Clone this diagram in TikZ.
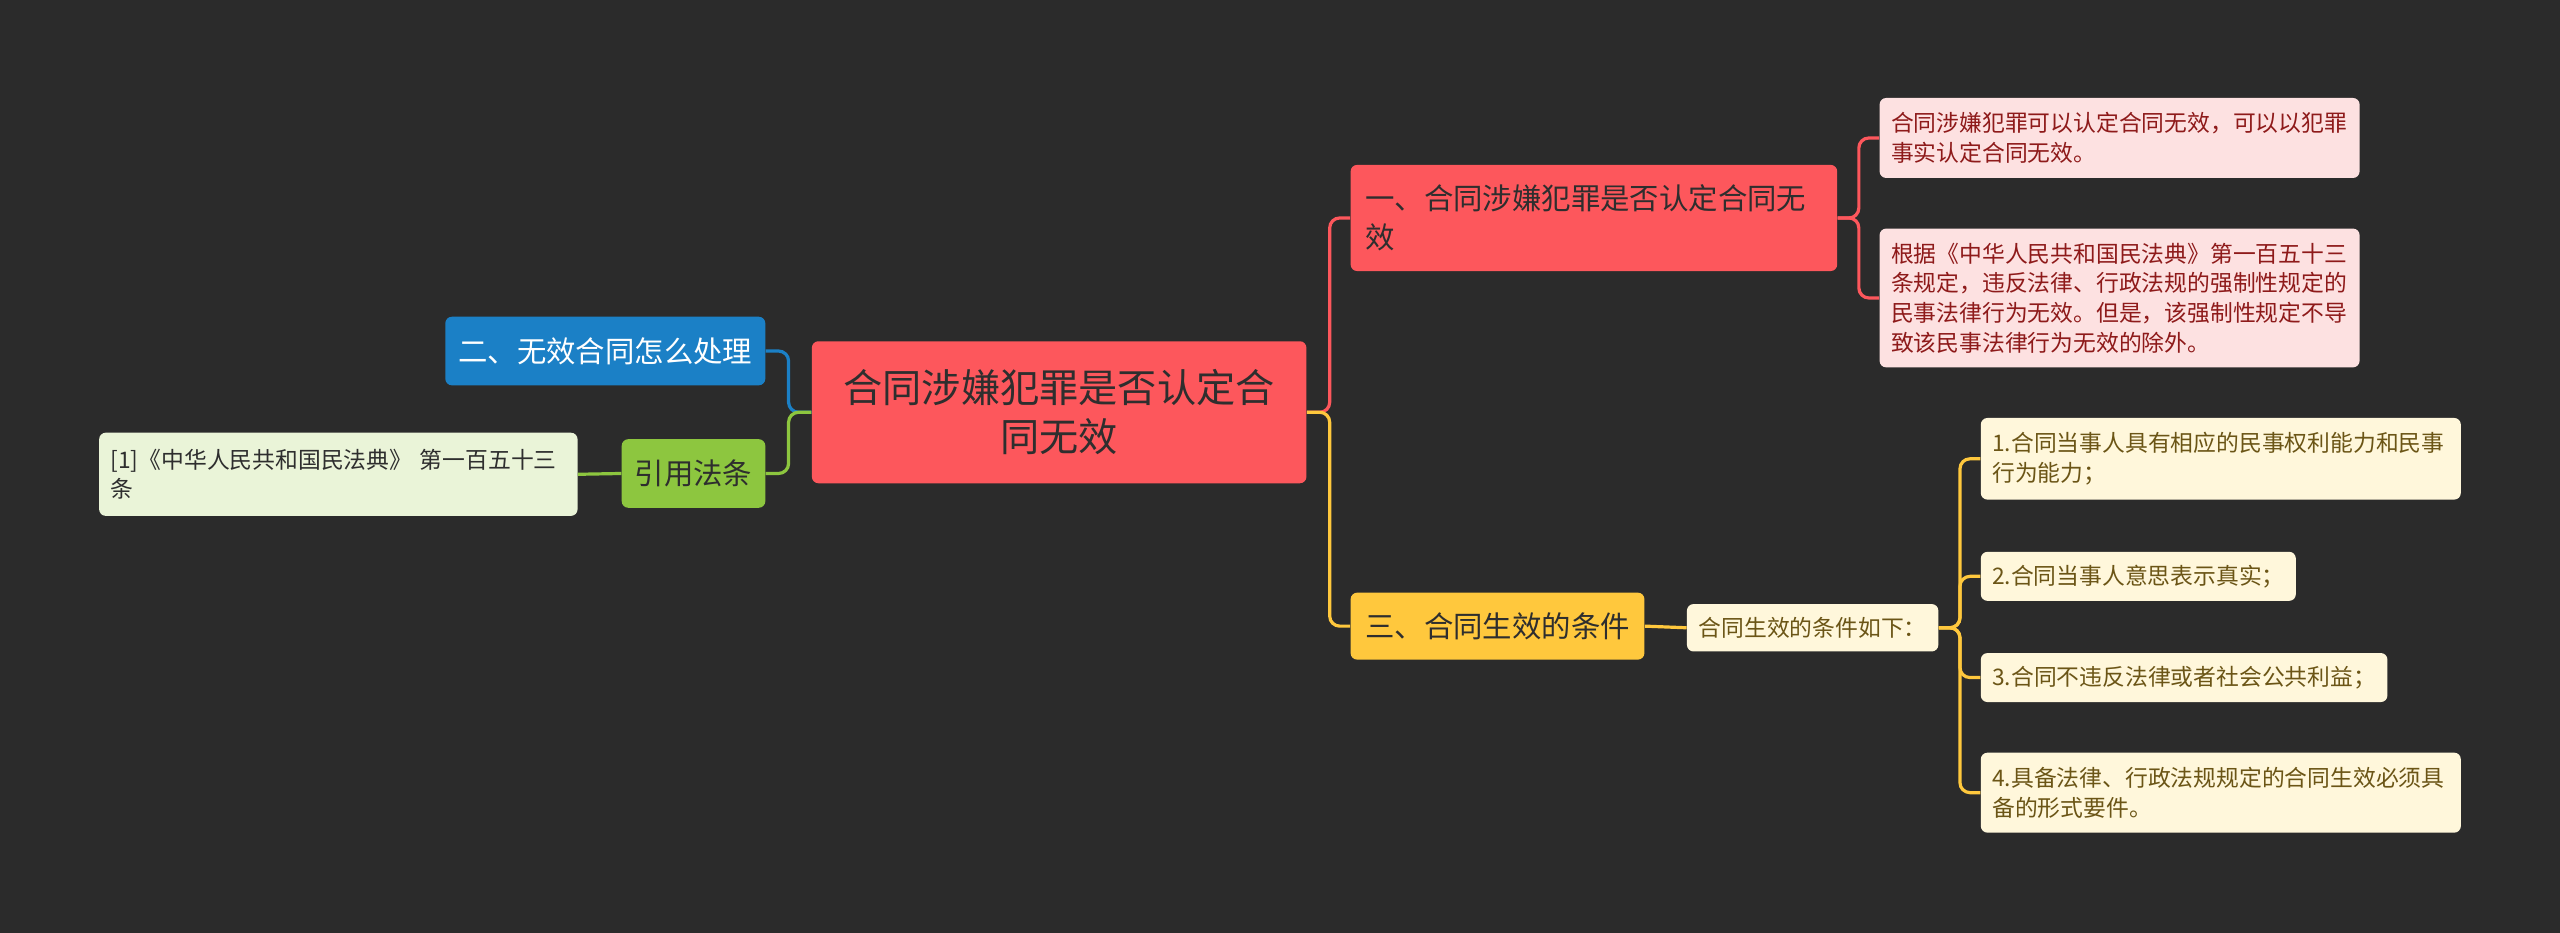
\documentclass[tikz,border=0pt]{standalone}
\usepackage{fontspec}
\setmainfont{Noto Sans CJK SC}
\definecolor{bgc}{HTML}{2B2B2B}
\definecolor{cred}{HTML}{FD575C}
\definecolor{cpink}{HTML}{FDE1E1}
\definecolor{tdred}{HTML}{8E1A1A}
\definecolor{cyel}{HTML}{FFC83D}
\definecolor{ccream}{HTML}{FFF7DB}
\definecolor{tolive}{HTML}{6B5516}
\definecolor{cblue}{HTML}{1B80C6}
\definecolor{cgreen}{HTML}{8DC63F}
\definecolor{clgreen}{HTML}{EAF4D8}
\definecolor{tdark}{HTML}{2E2E2E}
\begin{document}
\begin{tikzpicture}[x=0.8163pt,y=-0.8163pt,
  base/.style={rounded corners=3.3pt, inner ysep=0pt},
  one/.style={base, inner xsep=0pt, align=center},
  multi/.style={base, align=left},
  fbig/.style={font=\fontsize{19.6}{24.5}\selectfont},
  fmid/.style={font=\fontsize{14.7}{19.6}\selectfont},
  fsmall/.style={font=\fontsize{11.4}{14.8}\selectfont},
  redleaf/.style={multi, fsmall, fill=cpink, text=tdred, inner xsep=5.7pt, text width=228.6pt},
  yelleaf/.style={fsmall, fill=ccream, text=tolive},
  link/.style={line width=1.6pt, rounded corners=5pt}]
\useasboundingbox (0,0) rectangle (1568,571);
\fill[bgc] (-4,-4) rectangle (1572,575);

% central
\node[one, fbig, fill=cred, text=tdark, minimum width=247.3pt, minimum height=71pt, anchor=west] (c) at (497,252.5) {合同涉嫌犯罪是否认定合\\同无效};

% branch 1
\node[multi, fmid, fill=cred, text=tdark, inner xsep=7.35pt, text width=228.6pt, minimum height=53.1pt, anchor=west] (b1) at (827,133.5) {一、合同涉嫌犯罪是否认定合同无\\效};
\node[redleaf, minimum height=40pt, anchor=west] (l1a) at (1151,84.5) {合同涉嫌犯罪可以认定合同无效，可以以犯罪\\事实认定合同无效。};
\node[redleaf, minimum height=69.4pt, anchor=west] (l1b) at (1151,182.5) {根据《中华人民共和国民法典》第一百五十三\\条规定，违反法律、行政法规的强制性规定的\\民事法律行为无效。但是，该强制性规定不导\\致该民事法律行为无效的除外。};

% branch 3
\node[one, fmid, fill=cyel, text=tdark, minimum width=146.9pt, minimum height=33.5pt, anchor=west] (b3) at (827,383.5) {三、合同生效的条件};
\node[one, yelleaf, minimum width=125.7pt, minimum height=23.7pt, anchor=west] (s3) at (1033,384.5) {合同生效的条件如下：};
\node[multi, yelleaf, inner xsep=5.7pt, text width=228.6pt, minimum height=40.8pt, anchor=west] (l31) at (1213,281) {1.合同当事人具有相应的民事权利能力和民事\\行为能力；};
\node[one, yelleaf, minimum width=157.5pt, minimum height=24.5pt, anchor=west] (l32) at (1213,353) {2.合同当事人意思表示真实；};
\node[one, yelleaf, minimum width=203.3pt, minimum height=24.5pt, anchor=west] (l33) at (1213,415) {3.合同不违反法律或者社会公共利益；};
\node[multi, yelleaf, inner xsep=5.7pt, text width=228.6pt, minimum height=40pt, anchor=west] (l34) at (1213,485.5) {4.具备法律、行政法规规定的合同生效必须具\\备的形式要件。};

% left side
\node[one, fmid, fill=cblue, text=white, minimum width=160pt, minimum height=34.3pt, anchor=east] (b2) at (469,215) {二、无效合同怎么处理};
\node[one, fmid, fill=cgreen, text=tdark, minimum width=71.8pt, minimum height=34.3pt, anchor=east] (bg) at (469,290) {引用法条};
\node[multi, fsmall, fill=clgreen, text=tdark, inner xsep=5.7pt, text width=227.8pt, minimum height=41.6pt, anchor=east] (lg) at (354,290.5) {[1]《中华人民共和国民法典》~第一百五十三\\条};

% connectors
\draw[link, cred] (c.east) -- ++(14,0) |- (b1.west);
\draw[link, cyel] (c.east) -- ++(14,0) |- (b3.west);
\draw[link, cred] (b1.east) -- ++(13,0) |- (l1a.west);
\draw[link, cred] (b1.east) -- ++(13,0) |- (l1b.west);
\draw[link, cyel] (b3.east) -- (s3.west);
\draw[link, cyel] (s3.east) -- ++(13,0) |- (l31.west);
\draw[link, cyel] (s3.east) -- ++(13,0) |- (l32.west);
\draw[link, cyel] (s3.east) -- ++(13,0) |- (l33.west);
\draw[link, cyel] (s3.east) -- ++(13,0) |- (l34.west);
\draw[link, cblue] (c.west) -- ++(-14,0) |- (b2.east);
\draw[link, cgreen] (c.west) -- ++(-14,0) |- (bg.east);
\draw[link, cgreen] (bg.west) -- (lg.east);
\end{tikzpicture}
\end{document}
